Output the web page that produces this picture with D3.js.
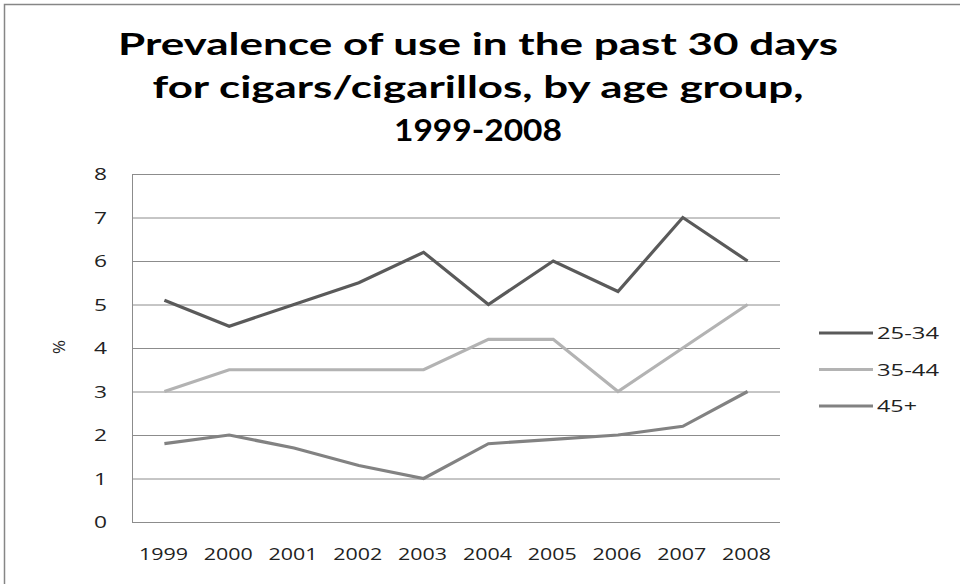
<!DOCTYPE html>
<html><head><meta charset="utf-8">
<script src="https://cdn.jsdelivr.net/npm/d3@7"></script>
<style>body{margin:0;background:#fff}svg{display:block}</style>
</head><body>
<script>
const years = ["1999","2000","2001","2002","2003","2004","2005","2006","2007","2008"];
const seriesNames = ["25-34","35-44","45+"];
const s2534 = [5.1,4.5,5.0,5.5,6.2,5.0,6.0,5.3,7.0,6.0];
const s3544 = [3.0,3.5,3.5,3.5,3.5,4.2,4.2,3.0,4.0,5.0];
const s45 = [1.8,2.0,1.7,1.3,1.0,1.8,1.9,2.0,2.2,3.0];
const yTicks = [0,1,2,3,4,5,6,7,8];
const titleLines = ["Prevalence of use in the past 30 days","for cigars/cigarillos, by age group,","1999-2008"];
const colors = ["#5a5a5a","#b3b3b3","#828282"];
const allSeries = [s2534, s3544, s45];

const W=960,H=584;
const svg=d3.select("body").append("svg").attr("width",W).attr("height",H);
svg.append("rect").attr("x",4.5).attr("y",4.5).attr("width",W+10).attr("height",H+10)
  .attr("fill","#fff").attr("stroke","#868686").attr("stroke-width",1.5);

const tFont="Lato, 'Open Sans', 'DejaVu Sans', sans-serif";
const tw=[720,651,168];
titleLines.forEach((t,i)=>{
  svg.append("text").attr("x",478).attr("y",55+i*43).attr("text-anchor","middle")
   .attr("font-family",tFont).attr("font-weight","700").attr("font-size",31)
   .attr("textLength",tw[i]).attr("lengthAdjust","spacingAndGlyphs")
   .attr("fill","#000").text(t);
});

const L=132,R=780,T=174,B=522;
const x=d3.scaleBand().domain(years).range([L,R]);
const y=d3.scaleLinear().domain([0,8]).range([B,T]);

const g=svg.append("g");
g.selectAll("line.grid").data(yTicks).join("line").attr("class","grid")
 .attr("x1",L).attr("x2",R).attr("y1",d=>y(d)+0.5).attr("y2",d=>y(d)+0.5)
 .attr("stroke","#8c8c8c").attr("stroke-width",1);
g.append("line").attr("x1",L+0.5).attr("x2",L+0.5).attr("y1",T).attr("y2",B)
 .attr("stroke","#8c8c8c").attr("stroke-width",1);

const lblFont="'Open Sans', 'DejaVu Sans', sans-serif";
const yAxis=d3.axisLeft(y).tickValues(yTicks).tickSize(0).tickPadding(0).tickFormat(d3.format("d"));
const ya=svg.append("g").attr("transform",`translate(${L-25},0)`).call(yAxis);
ya.select(".domain").remove();
ya.selectAll("text").attr("font-family",lblFont).attr("font-size",16.5).attr("fill","#222").attr("dy","0.36em")
  .attr("textLength",13).attr("lengthAdjust","spacingAndGlyphs");

const xAxis=d3.axisBottom(x).tickSize(0).tickPadding(0);
const xa=svg.append("g").attr("transform",`translate(-1,${B+26})`).call(xAxis);
xa.select(".domain").remove();
xa.selectAll("text").attr("font-family",lblFont).attr("font-size",16.5).attr("fill","#222")
  .attr("textLength",49).attr("lengthAdjust","spacingAndGlyphs");

svg.append("text").attr("transform","translate(59,347) rotate(-90)").attr("text-anchor","middle")
 .attr("dy","0.36em")
 .attr("font-family",lblFont).attr("font-size",17).attr("fill","#222").text("%");

const line=d3.line().x((d,i)=>x(years[i])+x.bandwidth()/2).y(d=>y(d));
allSeries.forEach((s,i)=>{
  svg.append("path").datum(s).attr("d",line).attr("fill","none")
   .attr("stroke",colors[i]).attr("stroke-width",3.2).attr("stroke-linejoin","miter");
});

const legW=[62,62,40];
seriesNames.forEach((n,i)=>{
  const yy=333+i*36.5;
  svg.append("line").attr("x1",819).attr("x2",873).attr("y1",yy).attr("y2",yy)
   .attr("stroke",colors[i]).attr("stroke-width",3.2);
  svg.append("text").attr("x",877).attr("y",yy).attr("dy","0.36em")
   .attr("font-family",lblFont).attr("font-size",17).attr("fill","#222")
   .attr("textLength",legW[i]).attr("lengthAdjust","spacingAndGlyphs").text(n);
});
</script>
</body></html>
